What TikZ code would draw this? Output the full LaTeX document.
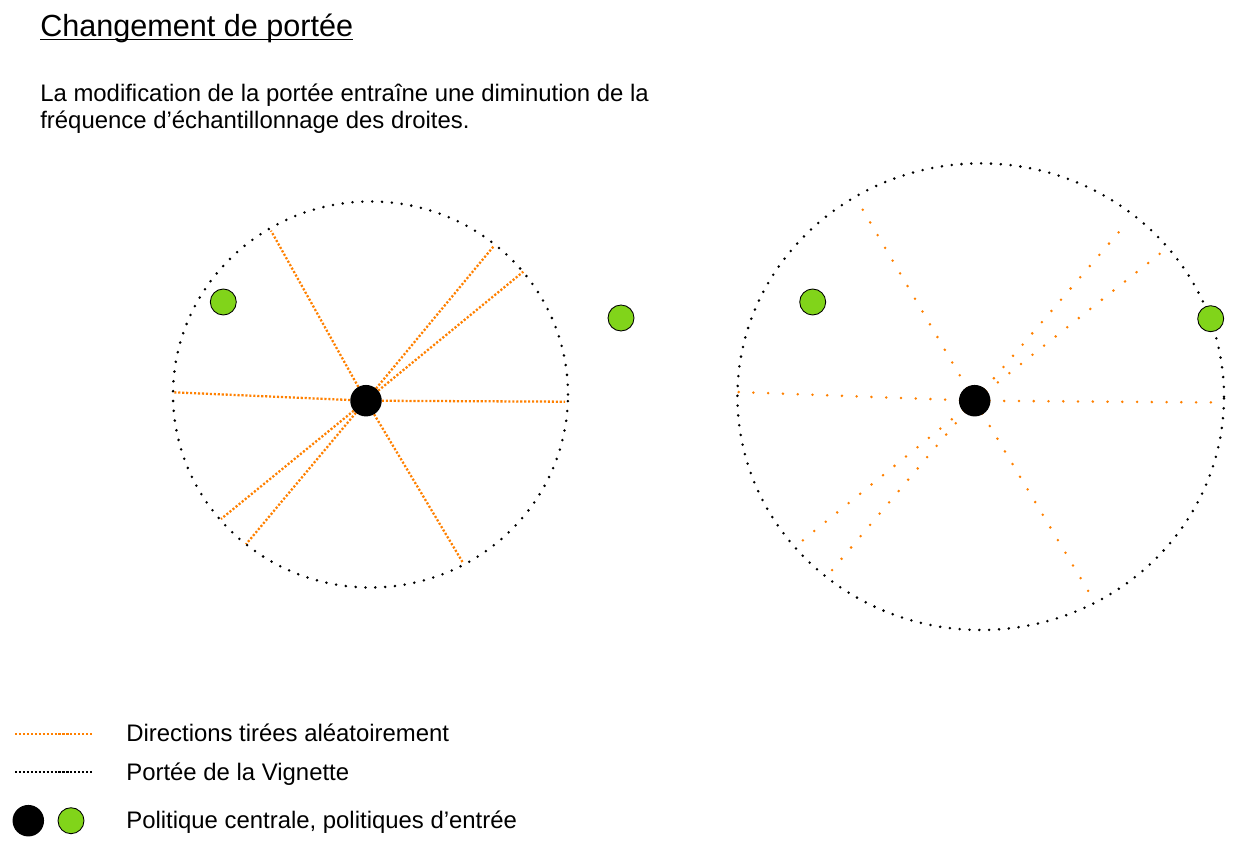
\documentclass[tikz,border=0pt]{standalone}
\usepackage{fontspec}
\setmainfont{Liberation Sans}
\usepackage{tikz}
\usetikzlibrary{positioning, backgrounds}
\usepackage{xcolor}
\definecolor{OrangeTirage}{RGB}{255,128,0}
\definecolor{VertEntree}{RGB}{129,212,26}
\tikzset{%
  portee/.style   ={draw=black, line width=1.6pt, line cap=round,
                    dash pattern=on 0pt off 5.6pt},
  dirA/.style     ={draw=OrangeTirage, line width=1.3pt,
                    dash pattern=on 1.2pt off 1.05pt},
  dirB/.style     ={draw=OrangeTirage, line width=1.6pt, line cap=round,
                    dash pattern=on 0pt off 8.4pt},
  legorange/.style={draw=OrangeTirage, line width=1.3pt,
                    dash pattern=on 1.2pt off 1.05pt},
  legnoir/.style  ={draw=black, line width=1.3pt,
                    dash pattern=on 1.2pt off 1.05pt},
  centre/.style   ={circle, fill=black, minimum size=0.63cm, inner sep=0pt},
  entree/.style   ={circle, draw=black, line width=0.5pt, fill=VertEntree,
                    minimum size=0.52cm, inner sep=0pt},
  txt/.style      ={anchor=base west, inner sep=0pt,
                    font=\fontsize{13.6}{15.5}\selectfont}
}
\begin{document}
\begin{tikzpicture}
  \useasboundingbox (0,0) rectangle (24.96,-17.18);
  % titre et texte
  \node[anchor=base west, inner sep=0pt, font=\fontsize{17.4}{20}\selectfont]
    (titre) at (0.8,-0.734) {Changement de portée};
  \draw[line width=0.6pt] ([yshift=-1.6pt]titre.base west) -- ([yshift=-1.6pt]titre.base east);
  \node[txt] (texteA) at (0.8,-2.034) {La modification de la portée entraîne une diminution de la};
  \node[txt] (texteB) at (0.8,-2.58) {fréquence d’échantillonnage des droites.};
  % portée initiale
  \node[centre] (c1) at (7.32,-8.014) {};
  \draw[portee] (7.41,-7.89) ellipse [x radius=3.95, y radius=3.86];
  \coordinate (l1) at (5.42,-4.614);
  \coordinate (l2) at (9.866,-4.934);
  \coordinate (l3) at (10.466,-5.434);
  \coordinate (l4) at (3.466,-7.846);
  \coordinate (l5) at (11.3,-8.034);
  \coordinate (l6) at (4.42,-10.38);
  \coordinate (l7) at (4.92,-10.886);
  \coordinate (l8) at (9.266,-11.266);
  \begin{scope}[on background layer]
    \foreach \p in {l1,l2,l3,l4,l5,l6,l7,l8}{\draw[dirA] (c1.center) -- (\p);}
  \end{scope}
  \node[entree] (e1) at (4.466,-6.04) {};
  \node[entree] (e2) at (12.42,-6.36) {};
  % portée agrandie
  \node[centre] (c2) at (19.494,-8.014) {};
  \draw[portee] (19.614,-7.934) ellipse [x radius=4.866, y radius=4.666];
  \coordinate (r1) at (17.2,-4.1);
  \coordinate (r2) at (22.486,-4.514);
  \coordinate (r3) at (23.334,-4.966);
  \coordinate (r4) at (14.734,-7.84);
  \coordinate (r5) at (24.38,-8.05);
  \coordinate (r6) at (15.9,-10.934);
  \coordinate (r7) at (16.52,-11.546);
  \coordinate (r8) at (21.9,-12.046);
  \begin{scope}[on background layer]
    \foreach \p in {r1,r2,r3,r4,r5,r6,r7,r8}{\draw[dirB] (c2.center) -- (\p);}
  \end{scope}
  \node[entree] (e3) at (16.254,-6.04) {};
  \node[entree] (e4) at (24.214,-6.374) {};
  % légende
  \coordinate (lo1) at (0.3,-14.686); \coordinate (lo2) at (1.88,-14.686);
  \coordinate (ln1) at (0.3,-15.446); \coordinate (ln2) at (1.88,-15.446);
  \draw[legorange] (lo1) -- (lo2);
  \draw[legnoir] (ln1) -- (ln2);
  \node[centre] (legc) at (0.566,-16.414) {};
  \node[entree] (lege) at (1.42,-16.414) {};
  \node[txt] (leg1) at (2.52,-14.834) {Directions tirées aléatoirement};
  \node[txt] (leg2) at (2.52,-15.6) {Portée de la Vignette};
  \node[txt] (leg3) at (2.52,-16.566) {Politique centrale, politiques d’entrée};
\end{tikzpicture}
\end{document}
